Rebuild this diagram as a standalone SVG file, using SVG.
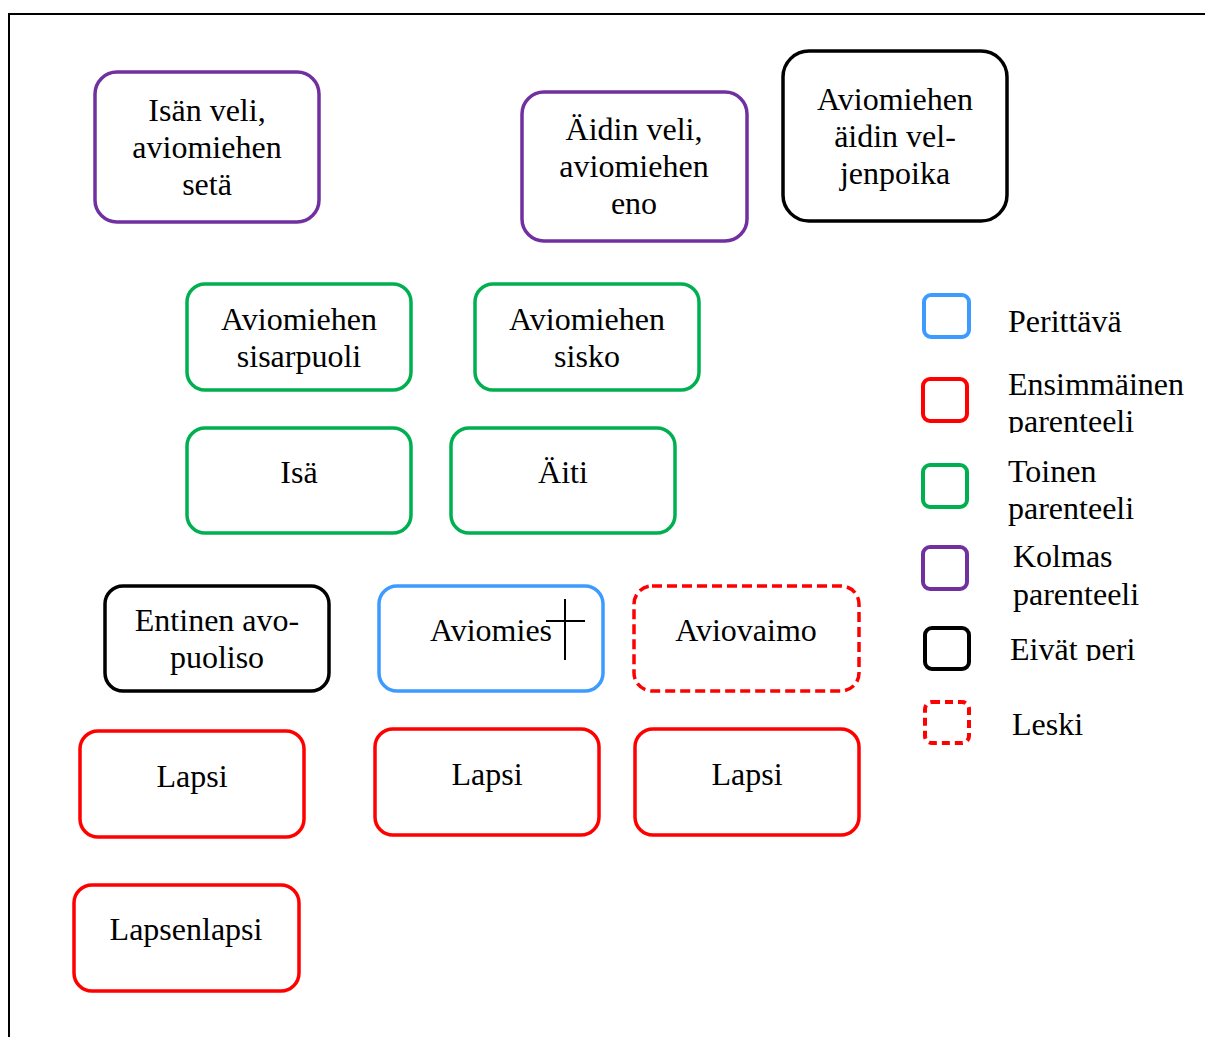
<svg xmlns="http://www.w3.org/2000/svg" width="1205" height="1037" viewBox="0 0 1205 1037">
<style>
.b{fill:#fff;stroke-width:3.5}
.l{stroke-width:4}
.p{stroke:#7030A0}.g{stroke:#00B050}.r{stroke:#FF0000}.u{stroke:#3D9BFF}.k{stroke:#000}
.d{stroke:#FF0000;stroke-dasharray:10 5}
text{font-family:"Liberation Serif","Times New Roman",serif;font-size:32px;fill:#000}
.c{text-anchor:middle}
</style>
<defs>
<clipPath id="clip1"><rect x="1000" y="360" width="205" height="73"/></clipPath>
<clipPath id="clip2"><rect x="1000" y="620" width="205" height="41"/></clipPath>
</defs>
<path d="M9,1037 V14 H1205" fill="none" stroke="#000" stroke-width="2"/>
<g id="isan-veli"><rect class="b p" x="95" y="72" width="224" height="150" rx="22"/><text class="c" x="207" y="121">Isän veli,</text><text class="c" x="207" y="158">aviomiehen</text><text class="c" x="207" y="195">setä</text></g>
<g id="aidin-veli"><rect class="b p" x="522" y="92" width="225" height="149" rx="22"/><text class="c" x="634" y="140">Äidin veli,</text><text class="c" x="634" y="177">aviomiehen</text><text class="c" x="634" y="214">eno</text></g>
<g id="veljenpoika"><rect class="b k" x="783" y="51" width="224" height="170" rx="26"/><text class="c" x="895" y="110">Aviomiehen</text><text class="c" x="895" y="147">äidin vel-</text><text class="c" x="895" y="184">jenpoika</text></g>
<g id="sisarpuoli"><rect class="b g" x="187" y="284" width="224" height="106" rx="18"/><text class="c" x="299" y="330">Aviomiehen</text><text class="c" x="299" y="367">sisarpuoli</text></g>
<g id="sisko"><rect class="b g" x="475" y="284" width="224" height="106" rx="18"/><text class="c" x="587" y="330">Aviomiehen</text><text class="c" x="587" y="367">sisko</text></g>
<g id="isa"><rect class="b g" x="187" y="428" width="224" height="105" rx="18"/><text class="c" x="299" y="483">Isä</text></g>
<g id="aiti"><rect class="b g" x="451" y="428" width="224" height="105" rx="18"/><text class="c" x="563" y="483">Äiti</text></g>
<g id="avopuoliso"><rect class="b k" x="105" y="586" width="224" height="105" rx="18"/><text class="c" x="217" y="631">Entinen avo-</text><text class="c" x="217" y="668">puoliso</text></g>
<g id="aviomies"><rect class="b u" x="379" y="586" width="224" height="105" rx="18"/><text class="c" x="491" y="641">Aviomies</text><path d="M565,599 V660 M546,621 H585" stroke="#000" stroke-width="2" fill="none"/></g>
<g id="aviovaimo"><rect class="b d" x="634" y="586" width="225" height="105" rx="18"/><text class="c" x="746" y="641">Aviovaimo</text></g>
<g id="lapsi1"><rect class="b r" x="80" y="731" width="224" height="106" rx="18"/><text class="c" x="192" y="787">Lapsi</text></g>
<g id="lapsi2"><rect class="b r" x="375" y="729" width="224" height="106" rx="18"/><text class="c" x="487" y="785">Lapsi</text></g>
<g id="lapsi3"><rect class="b r" x="635" y="729" width="224" height="106" rx="18"/><text class="c" x="747" y="785">Lapsi</text></g>
<g id="lapsenlapsi"><rect class="b r" x="74" y="885" width="225" height="106" rx="18"/><text class="c" x="186" y="940">Lapsenlapsi</text></g>
<g id="legend">
<rect class="b l u" x="924" y="295" width="45" height="42" rx="7"/><text x="1008" y="332">Perittävä</text>
<rect class="b l r" x="923" y="379" width="44" height="42" rx="7"/><g clip-path="url(#clip1)"><text x="1008" y="395">Ensimmäinen</text><text x="1008" y="432">parenteeli</text></g>
<rect class="b l g" x="923" y="465" width="44" height="42" rx="7"/><text x="1008" y="482">Toinen</text><text x="1008" y="519">parenteeli</text>
<rect class="b l p" x="923" y="547" width="44" height="42" rx="7"/><text x="1013" y="567">Kolmas</text><text x="1013" y="605">parenteeli</text>
<rect class="b l k" x="925" y="628" width="44" height="41" rx="7"/><g clip-path="url(#clip2)"><text x="1010" y="660">Eivät peri</text></g>
<rect class="b l d" x="925" y="702" width="44" height="41" rx="7" style="stroke-dasharray:8 5"/><text x="1012" y="735">Leski</text>
</g>
</svg>
